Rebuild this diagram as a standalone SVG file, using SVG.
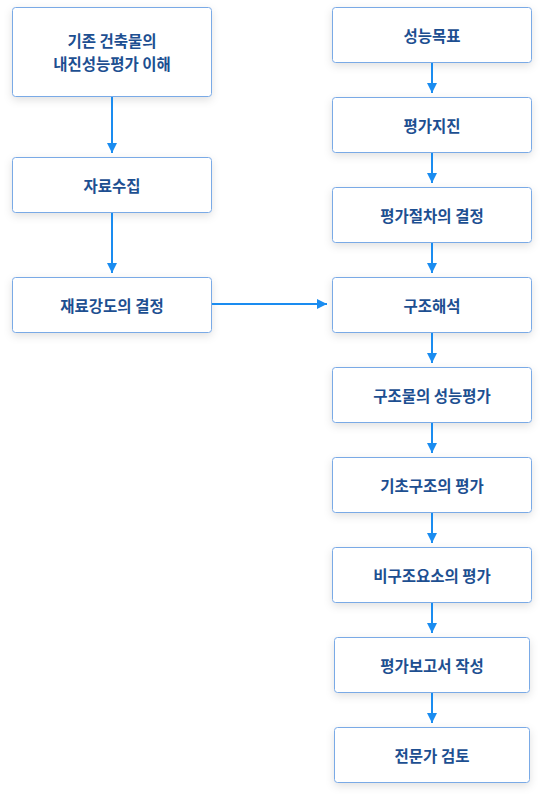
<svg xmlns="http://www.w3.org/2000/svg" width="544" height="800" viewBox="0 0 544 800">
<defs>
<filter id="sh" x="-20%" y="-30%" width="140%" height="170%">
<feDropShadow dx="0" dy="3" stdDeviation="4" flood-color="#000" flood-opacity="0.12"/>
</filter>
<marker id="ah" markerWidth="10" markerHeight="10" refX="10" refY="5" orient="auto" markerUnits="userSpaceOnUse">
<path d="M0,0 L10,5 L0,10 Z" fill="#1a8cf0"/>
</marker>
<style>
.box{fill:#fff;stroke:#7aaae6;stroke-width:1;filter:url(#sh)}
.t{font-family:"Noto Sans CJK KR","Noto Sans",sans-serif;font-size:15.5px;font-weight:700;fill:#1d4f91;text-anchor:middle;dominant-baseline:central}
.c{stroke:#1a8cf0;stroke-width:2;fill:none;marker-end:url(#ah)}
</style>
</defs>
<rect width="544" height="800" fill="#fff"/>
<g id="n1"><rect class="box" x="12.5" y="7.5" width="199" height="89" rx="3"/><text class="t" x="112" y="40">기존 건축물의</text><text class="t" x="112" y="63">내진성능평가 이해</text></g>
<g id="n2"><rect class="box" x="12.5" y="157.5" width="199" height="55" rx="3"/><text class="t" x="112" y="185">자료수집</text></g>
<g id="n3"><rect class="box" x="12.5" y="277.5" width="199" height="55" rx="3"/><text class="t" x="112" y="305">재료강도의 결정</text></g>
<g id="r1"><rect class="box" x="332.5" y="7.5" width="199" height="55" rx="3"/><text class="t" x="432" y="35">성능목표</text></g>
<g id="r2"><rect class="box" x="332.5" y="97.5" width="199" height="55" rx="3"/><text class="t" x="432" y="125">평가지진</text></g>
<g id="r3"><rect class="box" x="332.5" y="187.5" width="199" height="55" rx="3"/><text class="t" x="432" y="215">평가절차의 결정</text></g>
<g id="r4"><rect class="box" x="332.5" y="277.5" width="199" height="55" rx="3"/><text class="t" x="432" y="305">구조해석</text></g>
<g id="r5"><rect class="box" x="332.5" y="367.5" width="199" height="55" rx="3"/><text class="t" x="432" y="395">구조물의 성능평가</text></g>
<g id="r6"><rect class="box" x="332.5" y="457.5" width="199" height="55" rx="3"/><text class="t" x="432" y="485">기초구조의 평가</text></g>
<g id="r7"><rect class="box" x="332.5" y="547.5" width="199" height="55" rx="3"/><text class="t" x="432" y="575">비구조요소의 평가</text></g>
<g id="r8"><rect class="box" x="334.5" y="637.5" width="195" height="55" rx="3"/><text class="t" x="432" y="665">평가보고서 작성</text></g>
<g id="r9"><rect class="box" x="334.5" y="727.5" width="195" height="55" rx="3"/><text class="t" x="432" y="755">전문가 검토</text></g>
<g id="connectors">
<line class="c" x1="112" y1="97" x2="112" y2="153"/>
<line class="c" x1="112" y1="213" x2="112" y2="273"/>
<line class="c" x1="212" y1="304" x2="327" y2="304"/>
<line class="c" x1="432" y1="63" x2="432" y2="93"/>
<line class="c" x1="432" y1="153" x2="432" y2="183"/>
<line class="c" x1="432" y1="243" x2="432" y2="273"/>
<line class="c" x1="432" y1="333" x2="432" y2="363"/>
<line class="c" x1="432" y1="423" x2="432" y2="453"/>
<line class="c" x1="432" y1="513" x2="432" y2="543"/>
<line class="c" x1="432" y1="603" x2="432" y2="633"/>
<line class="c" x1="432" y1="693" x2="432" y2="723"/>
</g>
</svg>
